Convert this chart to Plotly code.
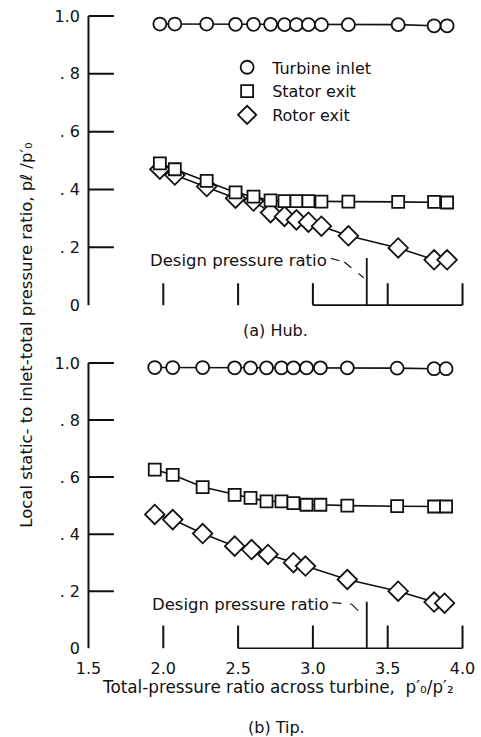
import plotly.graph_objects as go

# ---------------- data ----------------
hub_x = [1.977, 2.077, 2.29, 2.483, 2.603, 2.717, 2.81, 2.89, 2.97, 3.057, 3.237, 3.57, 3.81, 3.897]
hub_inlet = [0.972, 0.972, 0.972, 0.971, 0.971, 0.971, 0.97, 0.97, 0.97, 0.97, 0.97, 0.97, 0.966, 0.966]
hub_stator = [0.49, 0.47, 0.43, 0.39, 0.375, 0.362, 0.36, 0.36, 0.36, 0.358, 0.358, 0.357, 0.357, 0.355]
hub_rotor = [0.47, 0.45, 0.41, 0.37, 0.36, 0.32, 0.307, 0.295, 0.287, 0.273, 0.24, 0.198, 0.157, 0.157]

tip_x = [1.943, 2.063, 2.263, 2.477, 2.583, 2.69, 2.79, 2.87, 2.957, 3.05, 3.23, 3.563, 3.81, 3.89]
tip_inlet = [0.984, 0.984, 0.984, 0.983, 0.983, 0.983, 0.983, 0.983, 0.983, 0.983, 0.983, 0.982, 0.98, 0.98]
tip_stator = [0.626, 0.608, 0.565, 0.538, 0.527, 0.515, 0.515, 0.509, 0.503, 0.503, 0.50, 0.498, 0.497, 0.497]
tip_rotor_x = [1.943, 2.063, 2.263, 2.477, 2.59, 2.70, 2.87, 2.95, 3.23, 3.57, 3.81, 3.88]
tip_rotor = [0.469, 0.451, 0.402, 0.358, 0.346, 0.329, 0.30, 0.288, 0.241, 0.20, 0.162, 0.158]

design_ratio = 3.36
x_ticks = [1.5, 2.0, 2.5, 3.0, 3.5, 4.0]
x_tick_text = ["1.5", "2.0", "2.5", "3.0", "3.5", "4.0"]
y_ticks = [0, 0.2, 0.4, 0.6, 0.8, 1.0]
y_tick_text = ["0", ". 2", ". 4", ". 6", ". 8", "1.0"]

series_names = ["Turbine inlet", "Stator exit", "Rotor exit"]
series_symbols = ["circle", "square", "diamond"]

# ---------------- styling ----------------
FONT = "DejaVu Sans"
INK = "#111111"
W, H = 481, 737
L, R = 80.5, 10.5
PW = W - L - R


def px_x(p):
    """figure pixel -> paper x"""
    return (p - L) / PW


fig = go.Figure()


def add_series(xs, ys, sym, size, xa, ya):
    fig.add_trace(go.Scatter(
        x=xs, y=ys, mode="lines+markers", xaxis=xa, yaxis=ya,
        line=dict(color=INK, width=1.6),
        marker=dict(symbol=sym, size=size, color="white",
                    line=dict(color=INK, width=1.8)),
        showlegend=False, cliponaxis=False, hoverinfo="skip"))


add_series(hub_x, hub_inlet, "circle", 13, "x", "y")
add_series(hub_x, hub_rotor, "diamond", 15, "x", "y")
add_series(hub_x, hub_stator, "square", 12, "x", "y")
add_series(tip_x, tip_inlet, "circle", 13, "x2", "y2")
add_series(tip_x, tip_stator, "square", 12, "x2", "y2")
add_series(tip_rotor_x, tip_rotor, "diamond", 15, "x2", "y2")

# legend-only entries
for name, sym, sz in zip(series_names, series_symbols, [13, 12, 14]):
    fig.add_trace(go.Scatter(
        x=[None], y=[None], mode="markers", name=name, xaxis="x", yaxis="y",
        marker=dict(symbol=sym, size=sz, color="white",
                    line=dict(color=INK, width=1.8))))

shapes = []


def line(x0, y0, x1, y1, xr, yr, w=2.0, dash="solid"):
    shapes.append(dict(type="line", xref=xr, yref=yr, x0=x0, y0=y0, x1=x1, y1=y1,
                       line=dict(color=INK, width=w, dash=dash)))


tick_len_x = 0.17
for xr, yr, base_start, vt in [("x", "y", 3.0, 0.076), ("x2", "y2", 2.5, 0.08)]:
    line(1.5, 0, 1.5, 1.0, xr, yr)
    for yv in y_ticks[1:]:
        line(1.5, yv, 1.5 + tick_len_x, yv, xr, yr)
    for xv in x_ticks[1:]:
        line(xv, 0, xv, vt, xr, yr)
    line(base_start, 0, 4.0, 0, xr, yr, w=1.6)
    line(design_ratio, 0, design_ratio, 0.163, xr, yr, w=1.8)

# leader lines
line(3.12, 0.162, 3.21, 0.149, "x", "y", w=1.2, dash="dash")
line(3.21, 0.149, 3.34, 0.095, "x", "y", w=1.2, dash="dash")
line(3.13, 0.160, 3.26, 0.154, "x2", "y2", w=1.2, dash="dash")
line(3.26, 0.154, 3.34, 0.113, "x2", "y2", w=1.2, dash="dash")

annotations = [
    dict(text="Design pressure ratio", x=3.11, y=0.155, xref="x", yref="y",
         xanchor="right", yanchor="middle", showarrow=False, font=dict(size=16.5)),
    dict(text="Design pressure ratio", x=3.12, y=0.154, xref="x2", yref="y2",
         xanchor="right", yanchor="middle", showarrow=False, font=dict(size=16.5)),
    dict(text="(a) Hub.", x=px_x(275), y=1 - 330 / H, xref="paper", yref="paper",
         xanchor="center", yanchor="middle", showarrow=False, font=dict(size=16)),
    dict(text="(b) Tip.", x=px_x(277), y=1 - 728 / H, xref="paper", yref="paper",
         xanchor="center", yanchor="middle", showarrow=False, font=dict(size=16)),
    dict(text="Local static- to inlet-total pressure ratio, pℓ /p′₀",
         x=px_x(25), y=1 - 335 / H, xref="paper", yref="paper", textangle=-90,
         xanchor="center", yanchor="middle", showarrow=False, font=dict(size=16.5)),
    dict(text="Total-pressure ratio across turbine,  p′₀/p′₂",
         x=px_x(278), y=1 - 688 / H, xref="paper", yref="paper",
         xanchor="center", yanchor="middle", showarrow=False, font=dict(size=16.8)),
]

xrng = [1.45, 4.05]
yrng = [-0.03, 1.03]
common_y = dict(range=yrng, tickvals=y_ticks, ticktext=y_tick_text, showgrid=False,
                zeroline=False, showline=False, ticks="", tickfont=dict(size=16),
                fixedrange=True)
fig.update_layout(
    width=W, height=H,
    margin=dict(l=L, r=R, t=0, b=0),
    paper_bgcolor="white", plot_bgcolor="white",
    font=dict(family=FONT, color=INK, size=16),
    xaxis=dict(range=xrng, domain=[0, 1], anchor="y", showticklabels=False, showgrid=False,
               zeroline=False, showline=False, ticks=""),
    yaxis=dict(domain=[1 - 313.7 / H, 1 - 6.3 / H], anchor="x", **common_y),
    xaxis2=dict(range=xrng, domain=[0, 1], anchor="y2", tickvals=x_ticks, ticktext=x_tick_text,
                showgrid=False, zeroline=False, showline=False, ticks="",
                tickfont=dict(size=16)),
    yaxis2=dict(domain=[1 - 657.6 / H, 1 - 354.4 / H], anchor="x2", **common_y),
    legend=dict(x=px_x(247 - 25), y=1 - 49.5 / H, xanchor="left", yanchor="top",
                bgcolor="rgba(0,0,0,0)", borderwidth=0, font=dict(size=16),
                tracegroupgap=0, itemwidth=40),
    shapes=shapes, annotations=annotations,
)

fig.write_html("out.html")
